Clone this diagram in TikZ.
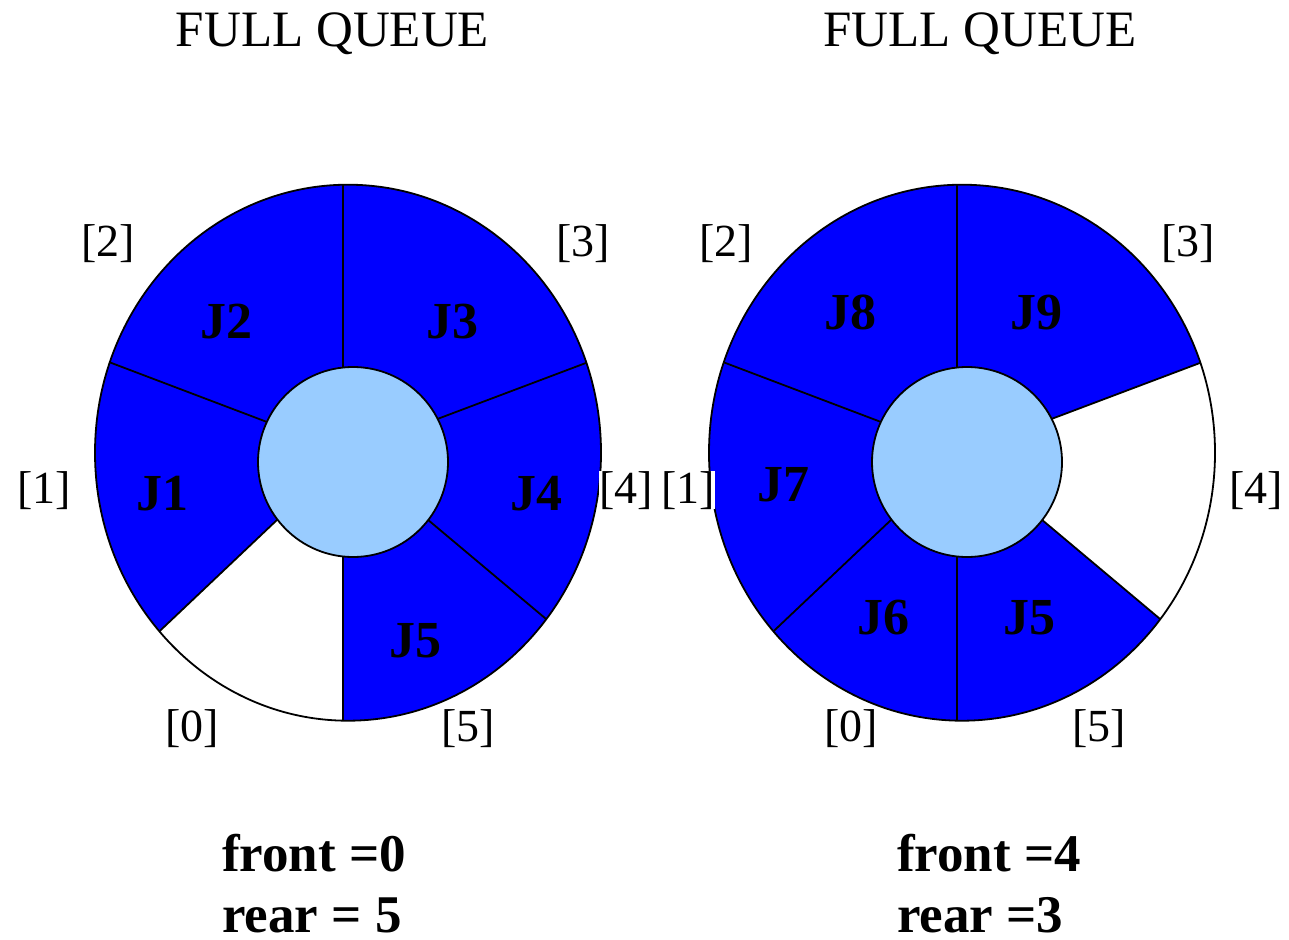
\documentclass[tikz,border=0pt]{standalone}
\usepackage{fontspec}
\setmainfont{Liberation Serif}
\usetikzlibrary{calc}
\definecolor{qblue}{RGB}{0,0,255}
\definecolor{qlight}{RGB}{153,204,255}
\begin{document}
\begin{tikzpicture}[x=1pt,y=-1pt,
  lbl/.style={font=\fontsize{46}{50}\selectfont, inner sep=0pt, anchor=base, fill=white},
  job/.style={font=\fontsize{52}{56}\selectfont\bfseries, inner sep=0pt, anchor=base},
  ttl/.style={font=\fontsize{51}{56}\selectfont, inner sep=0pt, anchor=base},
  info/.style={font=\fontsize{53}{56}\selectfont\bfseries, inner sep=0pt, anchor=base west},
  rim/.style={draw=black, line width=1.8pt},
  divider/.style={draw=black, line width=1.8pt},
  hub/.style={fill=qlight, draw=black, line width=1.8pt}]
\useasboundingbox (0,0) rectangle (1289,939);

% ---------- left queue ----------
\coordinate (Lc) at (348,452.7);
\fill[qblue] (Lc) ellipse [x radius=253pt, y radius=268pt];
\fill[white] (Lc) -- ++(221.8:253pt and 268pt)
   arc[start angle=221.8, end angle=268.9, x radius=253pt, y radius=268pt]
   -- (343.3,452.7) -- cycle;
\draw[rim] (Lc) ellipse [x radius=253pt, y radius=268pt];
\foreach \a in {160.3,19.6,-38.4,221.8}
  \draw[divider] (Lc) -- ++(\a:253pt and 268pt);
\coordinate (Ltop) at (343.3,184.7);
\coordinate (Lbot) at (343.3,720.6);
\draw[divider] (Ltop) -- (Lbot);
\draw[hub] (353,462) circle[radius=95pt];

\node[job] (J2) at (226,338) {J2};
\node[job] (J3) at (452,338) {J3};
\node[job] (J1) at (162,510) {J1};
\node[job] (J4) at (536,510) {J4};
\node[job] (J5a) at (415,657) {J5};

\node[lbl] (L2) at (108,256) {[2]};
\node[lbl] (L3) at (583,256) {[3]};
\node[lbl] (L1) at (44,503) {[1]};
\node[lbl] (L4) at (626,503) {[4]};
\node[lbl] (L0) at (192,741) {[0]};
\node[lbl] (L5) at (468,741) {[5]};

% ---------- right queue ----------
\coordinate (Rc) at (962,452.7);
\fill[qblue] (Rc) ellipse [x radius=253pt, y radius=268pt];
\fill[white] (Rc) -- ++(-38.4:253pt and 268pt)
   arc[start angle=-38.4, end angle=19.6, x radius=253pt, y radius=268pt]
   -- cycle;
\draw[rim] (Rc) ellipse [x radius=253pt, y radius=268pt];
\foreach \a in {160.3,19.6,-38.4,221.8}
  \draw[divider] (Rc) -- ++(\a:253pt and 268pt);
\coordinate (Rtop) at (957.3,184.7);
\coordinate (Rbot) at (957.3,720.6);
\draw[divider] (Rtop) -- (Rbot);
\draw[hub] (967,462) circle[radius=95pt];

\node[job] (J8) at (850,329) {J8};
\node[job] (J9) at (1036,329) {J9};
\node[job] (J7) at (783,501) {J7};
\node[job] (J6) at (883,634) {J6};
\node[job] (J5b) at (1029,634) {J5};

\node[lbl] (R2) at (726,256) {[2]};
\node[lbl] (R3) at (1188,256) {[3]};
\node[lbl] (R1) at (688,503) {[1]};
\node[lbl] (R4) at (1256,503) {[4]};
\node[lbl] (R0) at (851,741) {[0]};
\node[lbl] (R5) at (1099,741) {[5]};

% ---------- titles and pointers ----------
\node[ttl] (T1) at (332.5,47) {FULL QUEUE};
\node[ttl] (T2) at (980,47) {FULL QUEUE};

\node[info] (F1) at (222,871) {front =0};
\node[info] (E1) at (222,932) {rear = 5};
\node[info] (F2) at (897,871) {front =4};
\node[info] (E2) at (897,932) {rear =3};
\end{tikzpicture}
\end{document}
